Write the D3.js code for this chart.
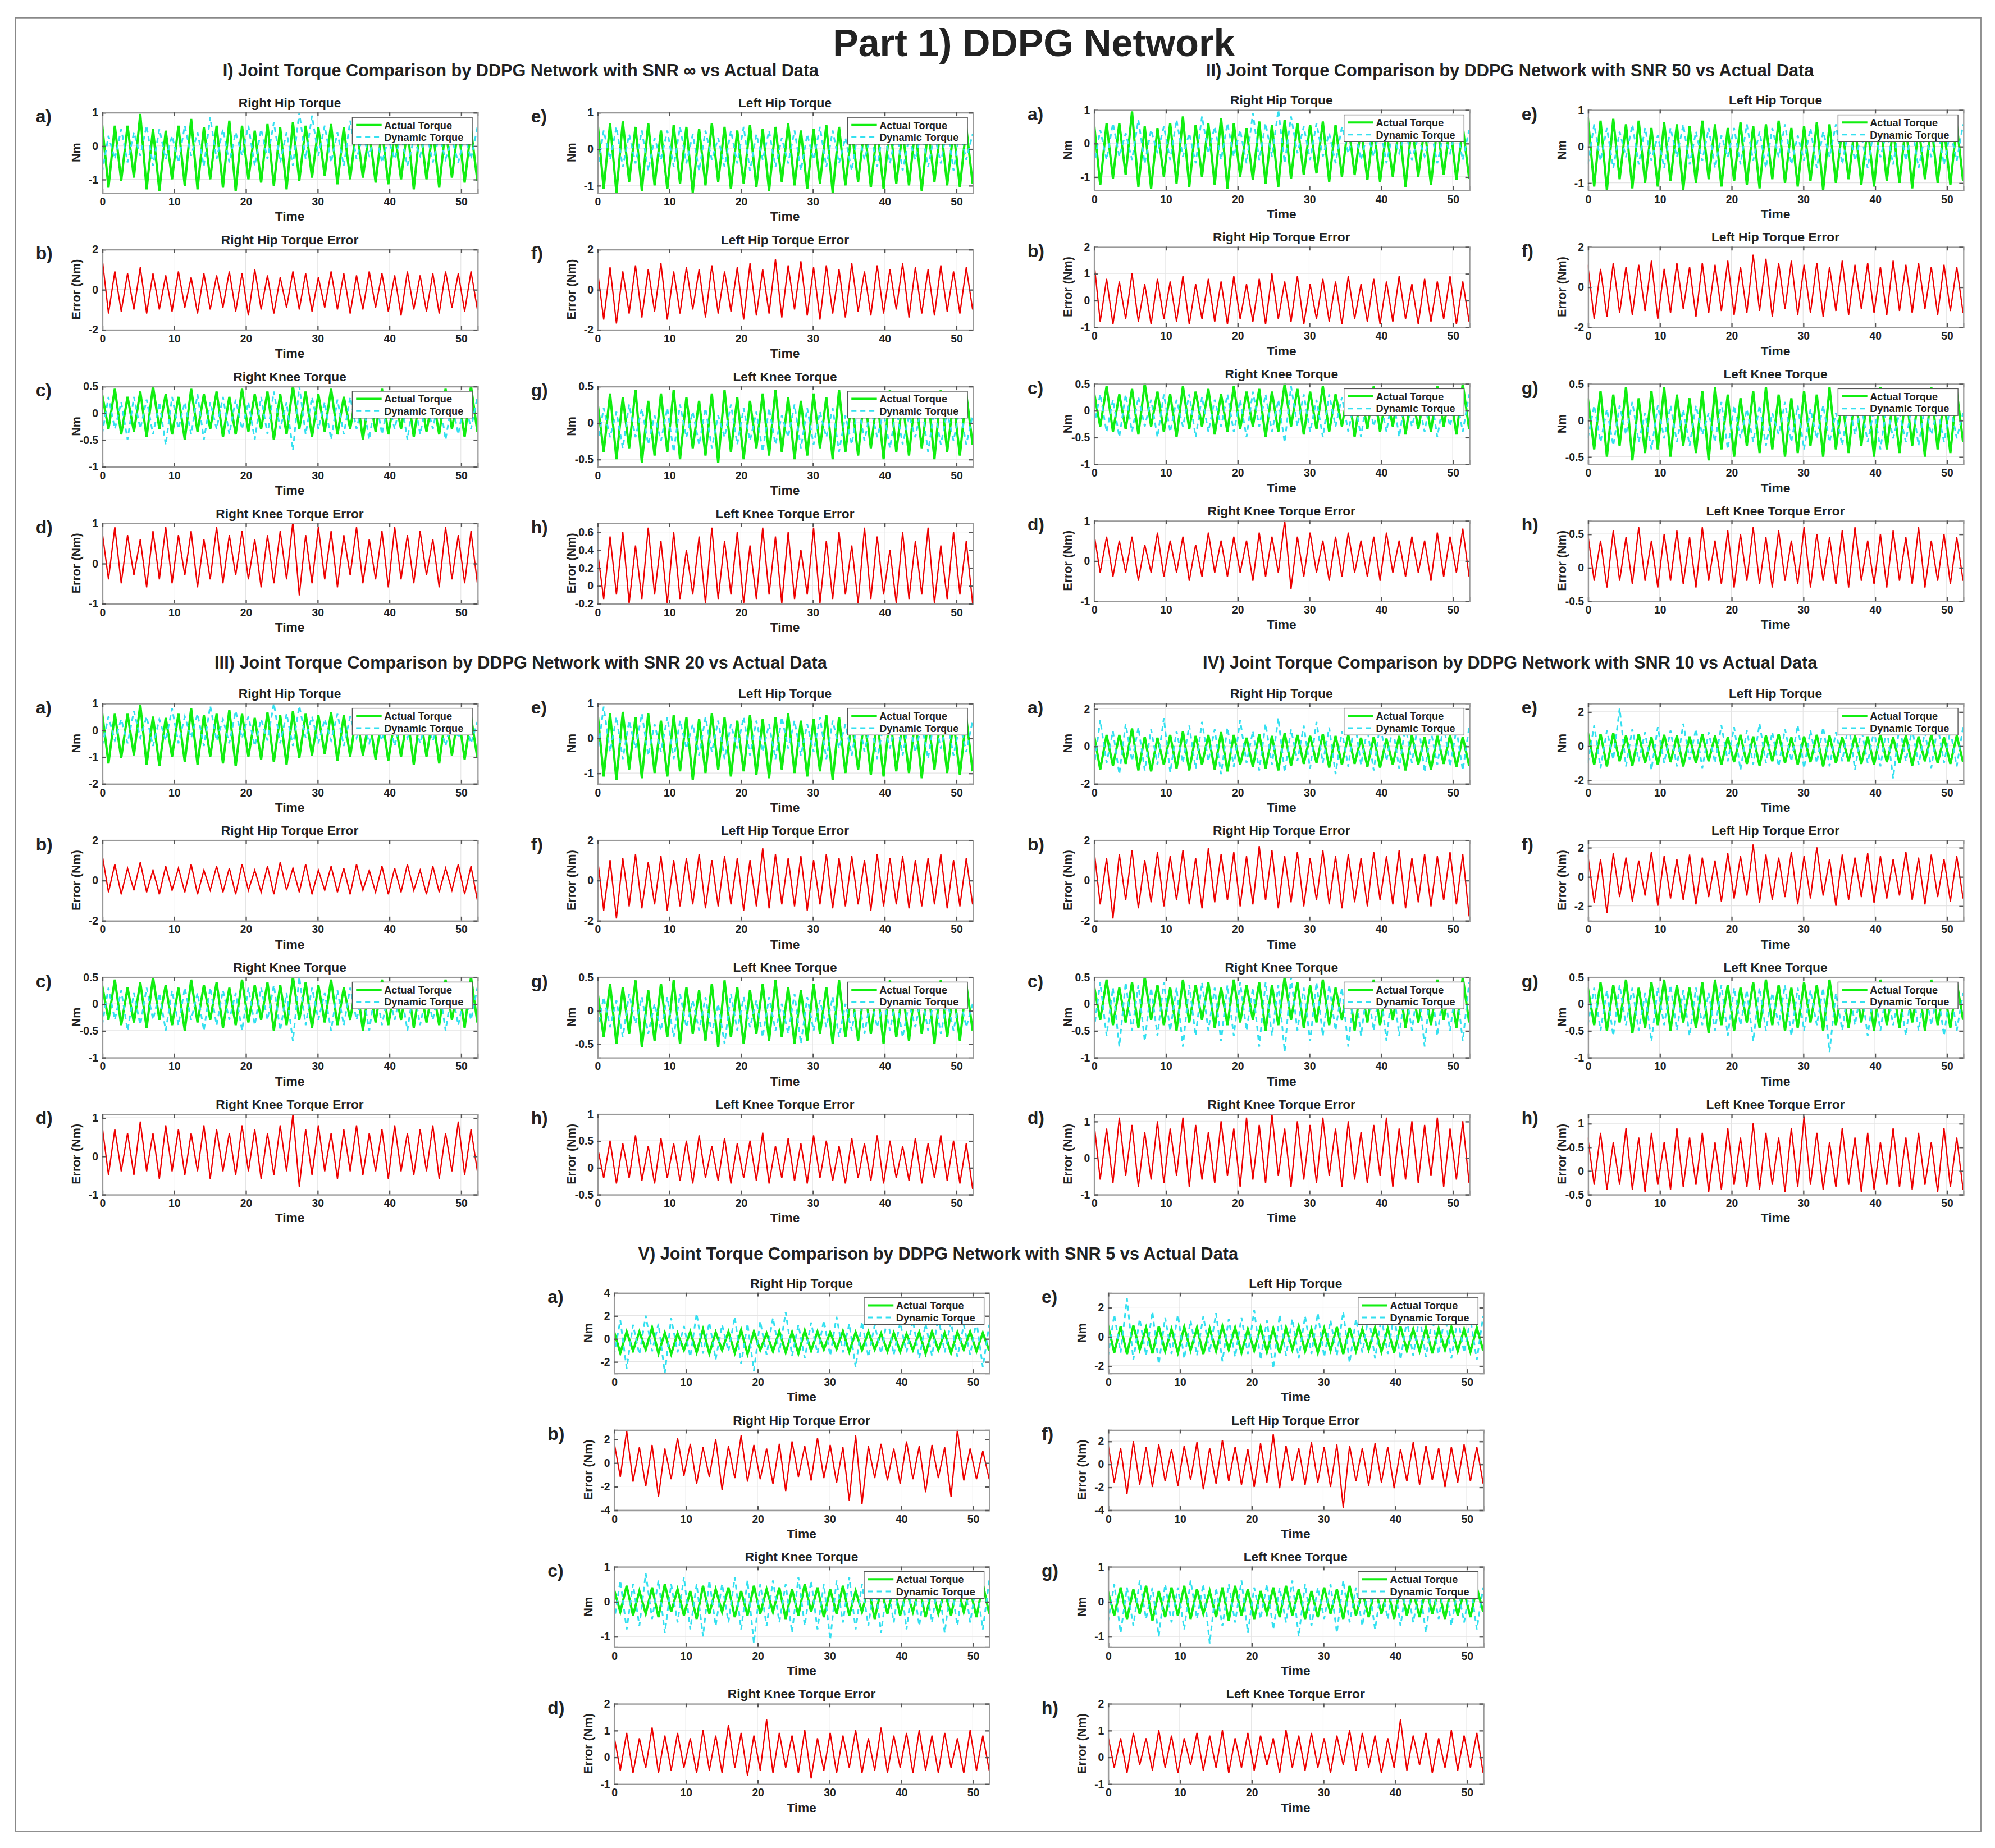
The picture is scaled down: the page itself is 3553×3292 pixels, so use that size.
<!DOCTYPE html>
<html>
<head>
<meta charset="utf-8">
<script src="https://cdn.jsdelivr.net/npm/d3@7"></script>
<style>
body { margin: 0; background: #fff; }
text { font-family: "Liberation Sans", Arial, sans-serif; font-weight: bold; fill: #222; }
</style>
</head>
<body>
<svg id="chart"></svg>
<script>
// ---------- data (alternating extrema per gait cycle) ----------
var timeSpan = 52.3
var xTicks = [0, 10, 20, 30, 40, 50]

// actual torque is the same recording in every section
var actRH = [0.65,-1.25,0.6,-1.05,0.6,-0.95,0.95,-1.3,0.5,-1.35,0.45,-1.0,0.6,-1.2,0.8,-1.3,0.55,-1.0,0.6,-1.25,0.75,-1.35,0.6,-1.0,0.45,-1.1,0.65,-1.2,0.55,-1.3,0.7,-1.05,0.6,-0.95,0.55,-0.9,0.65,-1.15,0.55,-1.0,0.6,-0.95,0.45,-1.1,0.5,-1.15,0.4,-1.0,0.55,-1.3,0.6,-1.0,0.5,-1.25,0.55,-0.95,0.6,-1.1,0.5,-1.05]
var actLH = [0.8,-1.1,0.7,-1.2,0.75,-0.9,0.6,-1.15,0.7,-1.0,0.5,-1.1,0.65,-0.95,0.6,-1.2,0.55,-1.0,0.7,-0.9,0.6,-1.1,0.5,-0.95,0.65,-1.05,0.55,-1.15,0.6,-0.9,0.7,-1.0,0.5,-1.1,0.55,-0.95,0.65,-1.2,0.6,-1.0,0.5,-0.9,0.6,-1.05,0.55,-1.1,0.7,-0.95,0.5,-1.0,0.6,-1.15,0.55,-0.9,0.65,-1.0,0.5,-1.05,0.6,-0.95]
var actRK = [0.35,-0.3,0.45,-0.4,0.3,-0.35,0.4,-0.45,0.5,-0.3,0.35,-0.4,0.3,-0.5,0.45,-0.35,0.35,-0.3,0.4,-0.45,0.3,-0.4,0.45,-0.35,0.35,-0.3,0.4,-0.5,0.35,-0.4,0.5,-0.3,0.4,-0.45,0.35,-0.35,0.45,-0.4,0.3,-0.3,0.4,-0.5,0.35,-0.35,0.45,-0.4,0.3,-0.3,0.4,-0.45,0.35,-0.35,0.3,-0.4,0.45,-0.3,0.35,-0.45,0.5,-0.35]
var actLK = [0.3,-0.4,0.4,-0.5,0.35,-0.35,0.45,-0.55,0.3,-0.45,0.4,-0.4,0.45,-0.5,0.35,-0.35,0.3,-0.45,0.4,-0.55,0.45,-0.4,0.35,-0.5,0.3,-0.35,0.4,-0.45,0.45,-0.4,0.35,-0.5,0.3,-0.45,0.4,-0.35,0.35,-0.5,0.45,-0.4,0.3,-0.45,0.4,-0.35,0.35,-0.5,0.45,-0.4,0.3,-0.45,0.4,-0.35,0.35,-0.5,0.45,-0.4,0.3,-0.45,0.4,-0.3]

// I) SNR inf
var dynRH_1 = [-0.8,0.3,-0.4,0.5,-0.5,0.4,-0.3,0.6,-0.6,0.5,-0.4,0.3,-0.5,0.6,-0.3,0.4,-0.6,0.85,-0.4,0.5,-0.5,0.4,-0.3,0.6,-0.6,0.5,-0.4,0.7,-0.5,0.4,-0.6,1.0,-0.4,0.9,-0.3,0.6,-0.5,0.4,-0.6,0.75,-0.4,0.3,-0.3,0.4,-0.5,0.2,-0.4,0.3,-0.6,0.2,-0.3,0.4,-0.5,0.3,-0.4,0.2,-0.5,0.3,-0.4,0.55]
var errRH_1 = [1.6,-1.2,0.9,-1.1,0.8,-1.0,1.1,-1.2,0.8,-1.0,0.7,-1.1,0.9,-0.9,0.6,-1.2,0.8,-1.0,0.7,-0.9,0.9,-1.1,0.8,-1.3,1.0,-1.0,0.7,-1.2,0.6,-0.9,0.9,-1.0,0.8,-1.1,0.6,-0.9,0.9,-1.0,0.8,-1.2,0.7,-1.0,0.9,-0.9,0.8,-1.1,0.7,-1.3,0.9,-1.0,0.7,-1.1,0.8,-1.2,0.9,-0.9,0.8,-1.1,0.9,-1.0]
var dynLH_1 = [-0.6,0.5,-0.3,0.6,-0.5,0.4,-0.4,0.5,-0.6,0.3,-0.3,0.5,-0.5,0.6,-0.4,0.4,-0.6,0.5,-0.3,0.3,-0.5,0.5,-0.4,0.6,-0.6,0.4,-0.3,0.5,-0.5,0.3,-0.4,0.5,-0.6,0.4,-0.3,0.6,-0.5,0.5,-0.4,0.3,-0.6,0.5,-0.3,0.4,-0.5,0.6,-0.4,0.5,-0.6,0.3,-0.3,0.5,-0.5,0.4,-0.4,0.6,-0.6,0.5,-0.3,0.4]
var errLH_1 = [1.0,-1.5,1.1,-1.7,0.9,-1.2,1.2,-1.4,1.0,-1.1,1.3,-1.5,0.9,-1.2,1.1,-1.0,1.0,-1.4,1.2,-1.2,0.9,-1.1,1.1,-1.5,1.3,-1.3,1.0,-1.2,1.5,-1.4,1.2,-1.0,1.4,-1.3,1.1,-1.5,1.2,-1.2,1.0,-1.4,1.3,-1.1,0.9,-1.3,1.2,-1.2,1.0,-1.0,1.3,-1.4,1.1,-1.2,1.0,-1.3,1.2,-1.1,0.9,-1.2,1.1,-1.0]
var dynRK_1 = [-0.4,0.3,-0.3,0.2,-0.5,0.3,-0.3,0.25,-0.4,0.2,-0.6,0.3,-0.3,0.2,-0.4,0.35,-0.5,0.2,-0.3,0.3,-0.4,0.25,-0.3,0.2,-0.5,0.3,-0.4,0.4,-0.3,0.2,-0.7,0.5,-0.4,0.3,-0.3,0.2,-0.5,0.25,-0.4,0.3,-0.3,0.2,-0.5,0.3,-0.4,0.2,-0.3,0.25,-0.5,0.3,-0.4,0.2,-0.3,0.3,-0.5,0.2,-0.4,0.25,-0.3,0.3]
var errRK_1 = [0.8,-0.4,0.9,-0.5,0.7,-0.3,0.6,-0.6,0.8,-0.4,0.9,-0.5,0.7,-0.3,0.8,-0.6,0.6,-0.4,0.9,-0.5,0.7,-0.3,0.8,-0.4,0.6,-0.6,0.7,-0.5,0.8,-0.4,1.05,-0.8,0.7,-0.5,0.9,-0.4,0.8,-0.6,0.7,-0.3,0.9,-0.5,0.6,-0.4,0.8,-0.6,0.9,-0.4,0.7,-0.5,0.8,-0.3,0.6,-0.6,0.9,-0.4,0.7,-0.5,0.8,-0.5]
var dynLK_1 = [-0.3,0.2,-0.2,0.15,-0.35,0.25,-0.2,0.2,-0.3,0.1,-0.25,0.2,-0.4,0.25,-0.2,0.15,-0.3,0.2,-0.35,0.1,-0.2,0.25,-0.3,0.2,-0.25,0.15,-0.4,0.2,-0.3,0.1,-0.2,0.25,-0.35,0.2,-0.3,0.15,-0.2,0.2,-0.4,0.1,-0.3,0.25,-0.25,0.2,-0.2,0.15,-0.35,0.2,-0.3,0.1,-0.2,0.25,-0.4,0.2,-0.3,0.15,-0.25,0.2,-0.3,0.1]
var errLK_1 = [0.4,-0.15,0.55,-0.1,0.6,-0.2,0.45,-0.15,0.65,-0.1,0.5,-0.2,0.6,-0.15,0.4,-0.1,0.55,-0.2,0.65,-0.15,0.5,-0.1,0.6,-0.2,0.45,-0.15,0.65,-0.1,0.55,-0.2,0.6,-0.15,0.4,-0.1,0.65,-0.2,0.5,-0.15,0.6,-0.1,0.45,-0.2,0.65,-0.15,0.55,-0.1,0.4,-0.2,0.6,-0.15,0.5,-0.1,0.65,-0.2,0.45,-0.15,0.6,-0.1,0.5,-0.2]

// II) SNR 50
var dynRH_2 = [-0.7,0.4,-0.5,0.6,-0.4,0.3,-0.5,0.7,-0.6,0.4,-0.3,0.5,-0.5,0.7,-0.4,0.3,-0.6,0.8,-0.3,0.5,-0.5,0.6,-0.4,0.4,-0.6,0.9,-0.5,0.6,-0.4,1.0,-0.6,0.8,-0.3,0.5,-0.5,0.6,-0.4,0.3,-0.6,0.5,-0.3,0.4,-0.5,0.3,-0.4,0.5,-0.6,0.3,-0.3,0.4,-0.5,0.2,-0.4,0.4,-0.6,0.3,-0.3,0.5,-0.5,0.4]
var errRH_2 = [1.5,-0.8,0.8,-0.9,0.7,-0.7,1.0,-0.8,0.6,-0.9,0.8,-0.7,0.7,-0.8,0.9,-0.9,0.6,-0.7,0.8,-0.8,0.7,-0.9,0.9,-0.7,0.6,-0.8,0.8,-0.9,1.0,-0.7,0.7,-0.8,0.9,-0.9,0.6,-0.7,0.8,-0.8,0.7,-0.9,0.9,-0.7,0.6,-0.8,0.8,-0.9,0.7,-0.8,0.9,-0.7,0.6,-0.9,0.8,-0.8,0.7,-0.7,0.9,-0.9,0.7,-0.8]
var dynLH_2 = [-0.5,0.6,-0.4,0.5,-0.6,0.4,-0.3,0.6,-0.5,0.5,-0.4,0.3,-0.6,0.5,-0.3,0.6,-0.5,0.4,-0.4,0.5,-0.6,0.3,-0.3,0.5,-0.5,0.6,-0.4,0.4,-0.6,0.5,-0.3,0.6,-0.5,0.3,-0.4,0.5,-0.6,0.4,-0.3,0.6,-0.5,0.5,-0.4,0.3,-0.6,0.5,-0.3,0.4,-0.5,0.6,-0.4,0.5,-0.6,0.3,-0.3,0.5,-0.5,0.4,-0.4,0.6]
var errLH_2 = [1.1,-1.6,0.9,-1.5,1.2,-1.3,1.0,-1.4,1.1,-1.2,1.3,-1.6,0.9,-1.3,1.2,-1.1,1.0,-1.5,1.2,-1.3,1.1,-1.2,1.3,-1.4,1.0,-1.3,1.6,-1.2,1.4,-1.5,1.2,-1.1,1.3,-1.4,1.1,-1.3,1.2,-1.5,1.0,-1.2,1.3,-1.4,1.1,-1.1,1.2,-1.3,1.0,-1.4,1.3,-1.2,1.1,-1.3,1.2,-1.1,1.0,-1.4,1.1,-1.2,1.0,-1.3]
var dynRK_2 = [-0.3,0.3,-0.4,0.2,-0.5,0.3,-0.4,0.25,-0.3,0.2,-0.5,0.3,-0.4,0.2,-0.3,0.3,-0.5,0.25,-0.4,0.2,-0.3,0.3,-0.4,0.2,-0.5,0.35,-0.3,0.3,-0.4,0.2,-0.6,0.45,-0.3,0.3,-0.4,0.2,-0.5,0.3,-0.3,0.25,-0.4,0.2,-0.5,0.3,-0.3,0.2,-0.4,0.3,-0.5,0.25,-0.3,0.2,-0.4,0.3,-0.5,0.2,-0.3,0.25,-0.4,0.3]
var errRK_2 = [0.7,-0.3,0.6,-0.4,0.5,-0.3,0.6,-0.5,0.4,-0.3,0.7,-0.4,0.5,-0.3,0.6,-0.5,0.4,-0.4,0.7,-0.3,0.5,-0.4,0.6,-0.3,0.5,-0.5,0.7,-0.4,0.6,-0.3,1.0,-0.7,0.6,-0.4,0.7,-0.3,0.5,-0.5,0.6,-0.4,0.7,-0.3,0.5,-0.4,0.6,-0.5,0.7,-0.3,0.5,-0.4,0.6,-0.3,0.5,-0.5,0.7,-0.4,0.6,-0.3,0.8,-0.4]
var dynLK_2 = [-0.25,0.2,-0.3,0.15,-0.35,0.2,-0.2,0.25,-0.3,0.1,-0.4,0.2,-0.25,0.2,-0.3,0.15,-0.35,0.2,-0.2,0.1,-0.3,0.25,-0.4,0.2,-0.25,0.15,-0.3,0.2,-0.35,0.1,-0.2,0.25,-0.3,0.2,-0.4,0.15,-0.25,0.2,-0.3,0.1,-0.35,0.25,-0.2,0.2,-0.3,0.15,-0.4,0.2,-0.25,0.1,-0.3,0.25,-0.35,0.2,-0.2,0.15,-0.3,0.2,-0.25,0.1]
var errLK_2 = [0.5,-0.2,0.4,-0.3,0.55,-0.2,0.45,-0.25,0.6,-0.2,0.4,-0.3,0.5,-0.2,0.55,-0.25,0.45,-0.3,0.6,-0.2,0.4,-0.25,0.55,-0.3,0.5,-0.2,0.6,-0.25,0.45,-0.3,0.55,-0.2,0.4,-0.25,0.6,-0.3,0.5,-0.2,0.45,-0.25,0.55,-0.3,0.6,-0.2,0.4,-0.25,0.5,-0.3,0.55,-0.2,0.45,-0.25,0.6,-0.3,0.4,-0.2,0.5,-0.25,0.45,-0.2]

// III) SNR 20
var dynRH_3 = [-0.6,0.5,-0.4,0.4,-0.5,0.7,-0.3,0.5,-0.6,0.4,-0.4,0.8,-0.5,0.5,-0.3,0.6,-0.6,0.9,-0.4,0.4,-0.5,0.7,-0.3,0.5,-0.6,0.4,-0.4,1.0,-0.5,0.6,-0.6,0.9,-0.3,0.5,-0.5,0.4,-0.4,0.6,-0.6,0.5,-0.3,0.4,-0.5,0.3,-0.4,0.5,-0.6,0.4,-0.3,0.3,-0.5,0.4,-0.4,0.3,-0.6,0.5,-0.3,0.4,-0.5,0.3]
var errRH_3 = [1.3,-0.6,0.8,-0.7,0.6,-0.5,0.9,-0.6,0.5,-0.7,0.7,-0.5,0.6,-0.6,0.8,-0.7,0.5,-0.5,0.7,-0.6,0.6,-0.7,0.8,-0.5,0.5,-0.6,0.7,-0.7,0.9,-0.5,0.6,-0.6,0.8,-0.7,0.5,-0.5,0.7,-0.6,0.6,-0.7,0.8,-0.5,0.5,-0.6,0.7,-0.7,0.6,-0.6,0.8,-0.5,0.5,-0.7,0.7,-0.6,0.6,-0.5,0.8,-0.7,0.7,-1.0]
var dynLH_3 = [-0.5,0.9,-0.4,0.6,-0.6,0.5,-0.3,0.7,-0.5,0.4,-0.4,0.6,-0.6,0.5,-0.3,0.4,-0.5,0.6,-0.4,0.5,-0.6,0.4,-0.3,0.6,-0.5,0.5,-0.4,0.4,-0.6,0.6,-0.3,0.5,-0.5,0.4,-0.4,0.6,-0.6,0.5,-0.3,0.4,-0.5,0.6,-0.4,0.5,-0.6,0.4,-0.3,0.6,-0.5,0.5,-0.4,0.4,-0.6,0.6,-0.3,0.5,-0.5,0.4,-0.4,0.5]
var errLH_3 = [1.2,-1.5,1.0,-1.9,1.1,-1.3,1.3,-1.4,0.9,-1.2,1.2,-1.5,1.0,-1.3,1.1,-1.2,1.3,-1.4,1.0,-1.3,1.2,-1.2,1.1,-1.5,1.0,-1.3,1.6,-1.4,1.3,-1.2,1.1,-1.3,1.2,-1.5,1.0,-1.2,1.3,-1.4,1.1,-1.3,1.2,-1.2,1.0,-1.5,1.3,-1.3,1.1,-1.2,1.2,-1.4,1.0,-1.3,1.1,-1.2,1.3,-1.4,1.0,-1.3,1.1,-1.2]
var dynRK_3 = [-0.4,0.3,-0.3,0.25,-0.5,0.2,-0.4,0.3,-0.3,0.2,-0.5,0.25,-0.4,0.3,-0.3,0.2,-0.5,0.3,-0.4,0.25,-0.3,0.2,-0.5,0.3,-0.4,0.3,-0.3,0.35,-0.5,0.2,-0.7,0.5,-0.4,0.3,-0.3,0.2,-0.5,0.25,-0.4,0.3,-0.3,0.2,-0.5,0.3,-0.4,0.2,-0.3,0.25,-0.5,0.3,-0.4,0.2,-0.3,0.3,-0.5,0.25,-0.4,0.2,-0.3,0.3]
var errRK_3 = [0.8,-0.5,0.7,-0.4,0.6,-0.5,0.9,-0.4,0.6,-0.6,0.8,-0.4,0.7,-0.5,0.6,-0.4,0.8,-0.6,0.7,-0.4,0.6,-0.5,0.8,-0.4,0.7,-0.6,0.6,-0.5,0.8,-0.4,1.1,-0.8,0.7,-0.5,0.8,-0.4,0.6,-0.6,0.7,-0.4,0.8,-0.5,0.6,-0.4,0.7,-0.6,0.8,-0.4,0.6,-0.5,0.7,-0.4,0.8,-0.6,0.6,-0.4,0.9,-0.5,0.7,-0.4]
var dynLK_3 = [-0.3,0.2,-0.25,0.15,-0.4,0.25,-0.2,0.2,-0.35,0.1,-0.3,0.2,-0.4,0.25,-0.25,0.15,-0.3,0.2,-0.35,0.1,-0.5,0.25,-0.3,0.2,-0.25,0.15,-0.4,0.2,-0.3,0.1,-0.35,0.25,-0.5,0.2,-0.3,0.15,-0.25,0.2,-0.4,0.1,-0.3,0.25,-0.35,0.2,-0.25,0.15,-0.3,0.2,-0.4,0.1,-0.25,0.25,-0.3,0.2,-0.35,0.15,-0.3,0.2,-0.25,0.1]
var errLK_3 = [0.4,-0.2,0.5,-0.3,0.45,-0.2,0.6,-0.25,0.4,-0.3,0.55,-0.2,0.45,-0.25,0.5,-0.3,0.6,-0.2,0.4,-0.25,0.55,-0.3,0.45,-0.2,0.5,-0.25,0.65,-0.3,0.4,-0.2,0.55,-0.25,0.45,-0.3,0.6,-0.2,0.5,-0.25,0.4,-0.3,0.55,-0.2,0.45,-0.25,0.6,-0.3,0.5,-0.2,0.4,-0.25,0.55,-0.3,0.45,-0.2,0.6,-0.25,0.5,-0.3,0.45,-0.4]

// IV) SNR 10
var dynRH_4 = [-1.2,1.4,-0.9,0.8,-1.5,1.2,-0.8,1.0,-1.3,0.9,-1.0,1.5,-1.4,0.8,-0.9,1.1,-1.2,1.3,-0.8,0.9,-1.5,1.0,-1.1,1.4,-0.9,0.8,-1.3,1.2,-1.0,1.5,-1.4,0.9,-0.8,1.1,-1.2,1.3,-0.9,1.0,-1.5,0.8,-1.1,1.4,-1.0,0.9,-1.3,1.2,-0.8,1.0,-1.2,1.1,-0.9,1.3,-1.4,0.8,-1.0,1.2,-1.1,0.9,-1.3,1.0]
var errRH_4 = [1.6,-1.2,1.1,-1.9,1.3,-1.0,1.5,-1.4,1.0,-1.1,1.4,-1.3,1.2,-1.0,1.5,-1.2,1.1,-1.4,1.6,-1.1,1.3,-1.0,1.4,-1.3,1.2,-1.2,1.7,-1.0,1.5,-1.4,1.2,-1.1,1.4,-1.3,1.1,-1.0,1.5,-1.2,1.2,-1.4,1.3,-1.1,1.1,-1.3,1.4,-1.0,1.2,-1.2,1.5,-1.4,1.1,-1.1,1.3,-1.3,1.2,-1.0,1.4,-1.2,1.3,-1.8]
var dynLH_4 = [-1.0,1.2,-1.3,0.9,-0.8,2.2,-1.2,1.0,-0.9,0.8,-1.4,1.1,-1.0,0.9,-1.2,1.3,-0.8,1.0,-1.3,0.8,-1.0,1.2,-0.9,1.1,-1.4,0.9,-1.1,1.3,-1.0,0.8,-1.2,1.0,-0.9,1.2,-1.3,0.9,-1.0,1.1,-1.2,0.8,-0.9,1.3,-1.4,1.0,-1.0,0.9,-1.2,1.1,-1.9,1.2,-0.9,1.0,-1.1,0.8,-1.3,1.2,-1.0,0.9,-1.2,1.1]
var errLH_4 = [1.5,-1.8,1.2,-2.5,1.6,-1.4,1.3,-1.7,1.1,-1.3,1.7,-2.0,1.4,-1.5,1.2,-1.6,1.5,-1.9,1.3,-1.4,1.1,-1.7,1.6,-1.5,1.4,-1.3,2.2,-1.8,1.5,-1.6,1.3,-1.4,1.7,-1.9,1.4,-1.5,2.0,-1.3,1.2,-2.0,1.5,-1.6,1.3,-1.4,1.6,-1.8,1.4,-1.5,1.2,-1.3,1.7,-1.6,1.3,-1.9,1.5,-1.4,1.2,-1.7,1.4,-1.5]
var dynRK_4 = [-0.5,0.4,-0.6,0.3,-0.8,0.4,-0.5,0.35,-0.7,0.3,-0.6,0.4,-0.5,0.3,-0.8,0.35,-0.6,0.4,-0.5,0.3,-0.7,0.35,-0.6,0.4,-0.5,0.3,-0.8,0.4,-0.6,0.35,-0.9,0.5,-0.5,0.3,-0.7,0.4,-0.6,0.35,-0.5,0.3,-0.8,0.4,-0.6,0.3,-0.5,0.35,-0.7,0.4,-0.6,0.3,-0.5,0.35,-0.8,0.4,-0.6,0.3,-0.5,0.35,-0.7,0.4]
var errRK_4 = [1.0,-0.6,0.8,-0.7,1.1,-0.5,0.9,-0.8,0.7,-0.6,1.0,-0.7,0.8,-0.5,1.1,-0.8,0.9,-0.6,0.7,-0.7,1.0,-0.5,0.8,-0.8,1.1,-0.6,0.9,-0.7,1.2,-0.5,0.8,-0.8,1.0,-0.6,0.9,-0.7,1.1,-0.5,0.8,-0.8,1.0,-0.6,0.7,-0.7,0.9,-0.5,1.1,-0.8,0.8,-0.6,1.0,-0.7,0.9,-0.5,1.1,-0.8,0.8,-0.6,1.0,-0.7]
var dynLK_4 = [-0.4,0.3,-0.5,0.25,-0.6,0.35,-0.4,0.3,-0.5,0.2,-0.7,0.3,-0.4,0.35,-0.5,0.25,-0.6,0.3,-0.4,0.2,-0.5,0.35,-0.6,0.3,-0.4,0.25,-0.7,0.3,-0.5,0.2,-0.4,0.35,-0.6,0.3,-0.5,0.25,-0.4,0.3,-0.9,0.2,-0.5,0.35,-0.4,0.3,-0.6,0.25,-0.5,0.3,-0.4,0.2,-0.6,0.35,-0.5,0.3,-0.4,0.25,-0.6,0.3,-0.5,0.2]
var errLK_4 = [0.7,-0.3,0.8,-0.4,0.6,-0.3,0.9,-0.4,0.7,-0.45,0.8,-0.3,0.6,-0.4,0.9,-0.35,0.7,-0.3,0.8,-0.45,0.6,-0.4,0.9,-0.3,0.7,-0.35,1.0,-0.4,0.8,-0.3,0.7,-0.45,0.9,-0.35,1.15,-0.3,0.8,-0.4,0.6,-0.35,0.9,-0.3,0.7,-0.45,0.8,-0.4,0.6,-0.3,0.9,-0.35,0.7,-0.4,0.8,-0.3,0.6,-0.45,0.9,-0.35,0.7,-0.4]

// V) SNR 5
var dynRH_5 = [-1.5,1.6,-2.6,1.2,-1.4,2.0,-1.1,1.3,-3.0,1.8,-1.2,1.1,-1.6,2.2,-1.3,1.4,-1.8,1.2,-1.1,1.9,-2.2,1.3,-2.8,1.5,-1.4,1.8,-1.2,2.3,-1.5,1.2,-1.7,1.4,-1.3,1.6,-1.5,1.9,-1.2,1.3,-2.5,1.5,-1.6,1.2,-1.3,1.8,-1.4,1.4,-1.2,1.6,-1.7,1.3,-1.5,1.9,-1.2,1.4,-1.6,1.2,-1.4,1.5,-2.5,1.2]
var errRH_5 = [1.8,-1.2,2.7,-1.6,1.3,-2.0,1.5,-2.9,1.2,-1.4,2.1,-1.1,1.6,-1.8,1.3,-1.2,2.0,-2.3,1.4,-1.3,2.3,-1.6,1.5,-1.4,1.2,-1.8,1.6,-2.4,1.8,-1.2,1.4,-1.5,2.1,-1.3,1.5,-1.7,1.3,-3.2,2.3,-3.5,1.4,-1.3,1.6,-1.5,1.2,-1.8,1.8,-1.4,1.4,-2.5,1.5,-1.3,1.3,-2.9,2.8,-1.5,1.2,-1.4,1.0,-1.4]
var dynLH_5 = [-1.4,1.5,-1.1,2.6,-1.6,1.2,-1.3,1.7,-1.9,1.3,-1.2,1.5,-1.5,1.1,-1.3,1.4,-1.1,1.6,-1.7,1.2,-1.4,1.3,-1.2,1.8,-1.6,1.1,-2.2,1.5,-1.3,1.2,-1.5,1.4,-1.2,1.6,-1.4,1.1,-1.3,1.7,-1.8,1.2,-1.1,1.4,-1.5,1.3,-1.2,1.5,-1.6,1.1,-1.3,1.4,-1.4,1.2,-1.2,1.5,-1.5,1.3,-1.1,1.2,-1.6,1.4]
var errLH_5 = [1.8,-1.6,1.4,-2.6,2.0,-1.8,1.5,-2.0,1.7,-1.5,1.3,-1.9,1.6,-1.4,1.9,-2.2,1.4,-1.7,2.1,-1.5,1.5,-1.8,1.3,-2.0,1.8,-1.6,2.6,-2.1,1.6,-1.5,1.4,-1.8,1.9,-1.6,1.5,-2.0,1.7,-3.8,1.6,-1.5,1.4,-1.9,1.8,-1.6,1.5,-2.1,1.3,-1.5,1.9,-1.8,1.6,-1.4,1.4,-2.0,1.5,-1.6,1.7,-1.5,1.5,-1.7]
var dynRK_5 = [-0.6,0.6,-0.8,0.5,-0.7,0.8,-0.5,0.6,-0.9,0.5,-0.6,0.7,-0.8,0.5,-1.0,0.6,-0.7,0.5,-0.6,0.7,-0.8,0.6,-1.2,0.5,-0.7,0.6,-0.6,0.5,-0.9,0.7,-0.7,0.6,-0.8,0.5,-1.1,0.6,-0.6,0.7,-0.8,0.5,-0.7,0.6,-0.9,0.5,-0.6,0.7,-0.8,0.6,-0.7,0.5,-0.6,0.6,-0.9,0.5,-0.7,0.7,-0.6,0.5,-0.8,0.6]
var errRK_5 = [0.8,-0.5,0.9,-0.6,0.7,-0.4,1.1,-0.6,0.8,-0.5,0.9,-0.4,0.7,-0.6,1.0,-0.5,0.8,-0.6,1.2,-0.4,0.9,-0.7,0.8,-0.5,1.4,-0.6,0.9,-0.4,0.8,-0.6,1.0,-0.8,0.7,-0.5,0.9,-0.6,0.8,-0.4,1.0,-0.6,0.7,-0.5,1.1,-0.6,0.8,-0.4,0.9,-0.6,1.0,-0.5,0.8,-0.6,0.9,-0.4,0.7,-0.6,1.0,-0.5,0.8,-0.5]
var dynLK_5 = [-0.6,0.5,-0.9,0.4,-0.7,0.6,-0.5,0.4,-1.0,0.5,-0.6,0.4,-0.8,0.6,-0.5,0.5,-1.2,0.4,-0.7,0.5,-0.6,0.6,-0.9,0.4,-0.5,0.5,-0.8,0.4,-0.6,0.6,-1.0,0.5,-0.7,0.4,-0.5,0.5,-0.9,0.6,-0.6,0.4,-0.7,0.5,-0.8,0.4,-0.5,0.6,-0.7,0.5,-0.6,0.4,-0.9,0.5,-0.5,0.6,-0.7,0.4,-0.6,0.5,-0.8,0.4]
var errLK_5 = [0.8,-0.4,0.7,-0.6,0.9,-0.3,0.7,-0.5,1.0,-0.4,0.8,-0.6,0.7,-0.3,0.9,-0.5,0.8,-0.4,1.0,-0.6,0.7,-0.4,0.9,-0.5,0.8,-0.3,0.7,-0.6,1.0,-0.4,0.8,-0.5,0.9,-0.4,0.7,-0.6,0.8,-0.3,1.0,-0.5,0.9,-0.4,0.8,-0.6,0.7,-0.4,1.4,-0.5,0.8,-0.3,0.9,-0.6,0.7,-0.4,1.0,-0.5,0.8,-0.4,0.9,-0.6]

// y-axis limits and ticks, panels in order RH, RH err, RK, RK err, LH, LH err, LK, LK err
var yLim_1 = [[-1.4,1],[-2,2],[-1,0.5],[-1,1],[-1.2,1],[-2,2],[-0.6,0.5],[-0.2,0.7]]
var yTk_1 = [[-1,0,1],[-2,0,2],[-1,-0.5,0,0.5],[-1,0,1],[-1,0,1],[-2,0,2],[-0.5,0,0.5],[-0.2,0,0.2,0.4,0.6]]
var yLim_2 = [[-1.4,1],[-1,2],[-1,0.5],[-1,1],[-1.2,1],[-2,2],[-0.6,0.5],[-0.5,0.7]]
var yTk_2 = [[-1,0,1],[-1,0,1,2],[-1,-0.5,0,0.5],[-1,0,1],[-1,0,1],[-2,0,2],[-0.5,0,0.5],[-0.5,0,0.5]]
var yLim_3 = [[-2,1],[-2,2],[-1,0.5],[-1,1.1],[-1.3,1],[-2,2],[-0.7,0.5],[-0.5,1]]
var yTk_3 = [[-2,-1,0,1],[-2,0,2],[-1,-0.5,0,0.5],[-1,0,1],[-1,0,1],[-2,0,2],[-0.5,0,0.5],[-0.5,0,0.5,1]]
var yLim_4 = [[-2,2.3],[-2,2],[-1,0.5],[-1,1.2],[-2.2,2.5],[-3,2.5],[-1,0.5],[-0.5,1.2]]
var yTk_4 = [[-2,0,2],[-2,0,2],[-1,-0.5,0,0.5],[-1,0,1],[-2,0,2],[-2,0,2],[-1,-0.5,0,0.5],[-0.5,0,0.5,1]]
var yLim_5 = [[-3,4],[-4,2.8],[-1.3,1],[-1,2],[-2.5,3],[-4,3],[-1.3,1],[-1,2]]
var yTk_5 = [[-2,0,2,4],[-4,-2,0,2],[-1,0,1],[-1,0,1,2],[-2,0,2],[-4,-2,0,2],[-1,0,1],[-1,0,1,2]]

var sectionTitles = [
  'I)  Joint  Torque  Comparison  by  DDPG  Network  with  SNR  \u221E  vs  Actual  Data',
  'II) Joint Torque Comparison by DDPG Network with SNR 50 vs Actual Data',
  'III) Joint Torque Comparison by DDPG Network with SNR 20 vs Actual Data',
  'IV) Joint Torque Comparison by DDPG Network with SNR 10 vs Actual Data',
  'V) Joint Torque Comparison by DDPG Network with SNR 5 vs Actual Data'
]
var panelTitles = ['Right Hip Torque','Right Hip Torque Error','Right Knee Torque','Right Knee Torque Error',
                   'Left Hip Torque','Left Hip Torque Error','Left Knee Torque','Left Knee Torque Error']
var letters = ['a)','b)','c)','d)','e)','f)','g)','h)']

// ---------- layout (in units of a 1563-wide page, scaled up) ----------
var W = 3553, H = 3292, k = W / 1563
var svg = d3.select('#chart').attr('width', W).attr('height', H)

var g = svg.append('g').attr('transform', 'scale(' + k + ')')
g.append('rect').attr('x', 12).attr('y', 14).attr('width', 1540).attr('height', 1421)
  .attr('fill', 'none').attr('stroke', '#888').attr('stroke-width', 0.8)
g.append('text').attr('x', 810).attr('y', 44).attr('text-anchor', 'middle')
  .style('font-size', '30px').text('Part 1) DDPG Network')

var sections = [
  {cx: 408, ty: 60, top: 88, cols: [80, 468], dyn: [dynRH_1, dynRK_1, dynLH_1, dynLK_1], err: [errRH_1, errRK_1, errLH_1, errLK_1], lim: yLim_1, tk: yTk_1},
  {cx: 1183, ty: 60, top: 86, cols: [857, 1244], dyn: [dynRH_2, dynRK_2, dynLH_2, dynLK_2], err: [errRH_2, errRK_2, errLH_2, errLK_2], lim: yLim_2, tk: yTk_2},
  {cx: 408, ty: 524, top: 551, cols: [80, 468], dyn: [dynRH_3, dynRK_3, dynLH_3, dynLK_3], err: [errRH_3, errRK_3, errLH_3, errLK_3], lim: yLim_3, tk: yTk_3},
  {cx: 1183, ty: 524, top: 551, cols: [857, 1244], dyn: [dynRH_4, dynRK_4, dynLH_4, dynLK_4], err: [errRH_4, errRK_4, errLH_4, errLK_4], lim: yLim_4, tk: yTk_4},
  {cx: 735, ty: 987, top: 1013, cols: [481, 868], dyn: [dynRH_5, dynRK_5, dynLH_5, dynLK_5], err: [errRH_5, errRK_5, errLH_5, errLK_5], lim: yLim_5, tk: yTk_5}
]
var actual = [actRH, actRK, actLH, actLK]
var pw = 294, ph = 63, rowGap = 107.3
var clipId = 0
var fmt = function (d) { return String(d) }

function series(arr) {
  var step = timeSpan / (arr.length - 1)
  return arr.map(function (v, i) { return [i * step, v] })
}

sections.forEach(function (s, si) {
  g.append('text').attr('x', s.cx).attr('y', s.ty).attr('text-anchor', 'middle')
    .style('font-size', '13.5px').text(sectionTitles[si])

  for (var p = 0; p < 8; p++) {
    var col = Math.floor(p / 4), row = p % 4
    var joint = col * 2 + Math.floor(row / 2)   // RH, RK, LH, LK
    var isErr = row % 2 === 1
    var x0 = s.cols[col], y0 = s.top + row * rowGap
    var pg = g.append('g').attr('transform', 'translate(' + x0 + ',' + y0 + ')')

    var x = d3.scaleLinear().domain([0, timeSpan]).range([0, pw])
    var y = d3.scaleLinear().domain(s.lim[p]).range([ph, 0])

    // grid
    pg.selectAll('.gx').data(xTicks).enter().append('line')
      .attr('x1', function (d) { return x(d) }).attr('x2', function (d) { return x(d) })
      .attr('y1', 0).attr('y2', ph).attr('stroke', '#e4e4e4').attr('stroke-width', 0.5)
    pg.selectAll('.gy').data(s.tk[p]).enter().append('line')
      .attr('y1', function (d) { return y(d) }).attr('y2', function (d) { return y(d) })
      .attr('x1', 0).attr('x2', pw).attr('stroke', '#e4e4e4').attr('stroke-width', 0.5)

    clipId++
    pg.append('clipPath').attr('id', 'c' + clipId).append('rect').attr('width', pw).attr('height', ph)
    var lines = pg.append('g').attr('clip-path', 'url(#c' + clipId + ')')
    var line = d3.line().x(function (d) { return x(d[0]) }).y(function (d) { return y(d[1]) })

    if (isErr) {
      lines.append('path').attr('d', line(series(s.err[joint])))
        .attr('fill', 'none').attr('stroke', '#ee0000').attr('stroke-width', 1)
    } else {
      lines.append('path').attr('d', line(series(actual[joint])))
        .attr('fill', 'none').attr('stroke', '#11ee11').attr('stroke-width', 1.8)
      lines.append('path').attr('d', line(series(s.dyn[joint])))
        .attr('fill', 'none').attr('stroke', '#33e0f0').attr('stroke-width', 1.3)
        .attr('stroke-dasharray', '4,3')
    }

    // axes
    pg.append('g').attr('transform', 'translate(0,' + ph + ')')
      .call(d3.axisBottom(x).tickValues(xTicks).tickFormat(fmt).tickSize(-3).tickPadding(4))
    pg.append('g').call(d3.axisLeft(y).tickValues(s.tk[p]).tickFormat(fmt).tickSize(-3).tickPadding(3))
    pg.append('g').call(d3.axisTop(x).tickValues(xTicks).tickSize(-3).tickFormat(''))
    pg.append('g').attr('transform', 'translate(' + pw + ',0)')
      .call(d3.axisRight(y).tickValues(s.tk[p]).tickSize(-3).tickFormat(''))
    pg.selectAll('.domain').attr('stroke', '#999')
    pg.selectAll('.tick line').attr('stroke', '#555')
    pg.selectAll('.tick text').style('font-size', '8.5px').attr('fill', '#222')

    pg.append('text').attr('x', pw / 2).attr('y', -4).attr('text-anchor', 'middle')
      .style('font-size', '10px').text(panelTitles[p])
    pg.append('text').attr('x', pw / 2).attr('y', ph + 22).attr('text-anchor', 'middle')
      .style('font-size', '10px').text('Time')
    pg.append('text').attr('transform', 'translate(-17,' + ph / 2 + ') rotate(-90)')
      .attr('text-anchor', 'middle').style('font-size', '9.5px').text(isErr ? 'Error (Nm)' : 'Nm')
    pg.append('text').attr('x', -52).attr('y', 8).style('font-size', '14px').text(letters[p])

    if (!isErr) {
      var lg = pg.append('g').attr('transform', 'translate(' + (pw - 98) + ',4)')
      lg.append('rect').attr('width', 94).attr('height', 21).attr('fill', '#fff')
        .attr('stroke', '#555').attr('stroke-width', 0.6)
      lg.append('line').attr('x1', 3).attr('x2', 23).attr('y1', 6).attr('y2', 6)
        .attr('stroke', '#11ee11').attr('stroke-width', 1.8)
      lg.append('line').attr('x1', 3).attr('x2', 23).attr('y1', 15.5).attr('y2', 15.5)
        .attr('stroke', '#33e0f0').attr('stroke-width', 1.3).attr('stroke-dasharray', '4,3')
      lg.append('text').attr('x', 25).attr('y', 9).style('font-size', '8px').text('Actual Torque')
      lg.append('text').attr('x', 25).attr('y', 18.5).style('font-size', '8px').text('Dynamic Torque')
    }
  }
})
</script>
</body>
</html>
